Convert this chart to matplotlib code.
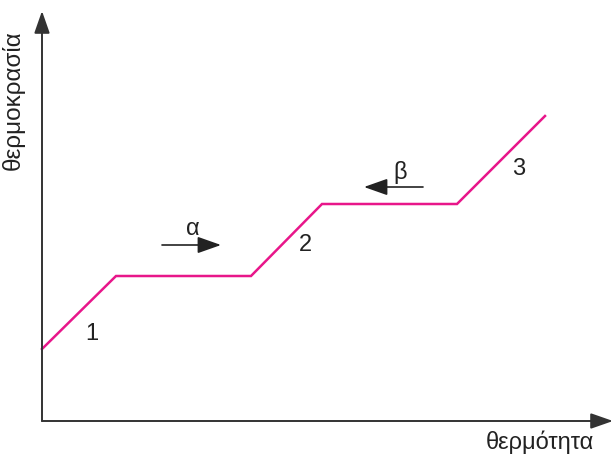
import matplotlib
matplotlib.use("Agg")
import matplotlib.pyplot as plt

# heat (x) and temperature (y) of the broken line, in chart units from the origin
heat = [0, 74, 209, 280, 415, 503]
temperature = [72, 145, 145, 217, 217, 305]

segment_labels = ["1", "2", "3"]
segment_label_pos = [(50, 87), (263, 176), (477, 252)]
process_labels = ["α", "β"]
process_label_pos = [(151, 192), (358, 249)]
process_arrows = [((120, 176), (179, 176)), ((381, 234), (322, 234))]

x_label = "θερμότητα"
y_label = "θερμοκρασία"

plt.rcParams['font.family'] = ['Liberation Sans', 'DejaVu Sans']

fig = plt.figure(figsize=(6.14, 4.55), dpi=100)
ax = fig.add_axes([0, 0, 1, 1])
ax.set_xlim(-42, 572)
ax.set_ylim(-34, 421)
ax.axis('off')

axis_col = '#333333'
text_col = '#222222'
# axes with arrows
for tip in [(571, 0), (0, 410)]:
    ax.annotate('', xy=tip, xytext=(0, 0),
                arrowprops=dict(arrowstyle='-|>,head_length=0.8,head_width=0.28',
                                color=axis_col, lw=1.4, mutation_scale=17,
                                shrinkA=0, shrinkB=0))

ax.plot(heat, temperature, color='#e8168a', lw=1.8, solid_joinstyle='miter')

for t, (x, y) in zip(segment_labels, segment_label_pos):
    ax.text(x, y, t, fontsize=17, ha='center', va='center', color=text_col)
for t, (x, y) in zip(process_labels, process_label_pos):
    ax.text(x, y, t, fontsize=17, ha='center', va='center', color=text_col)
for (s, e) in process_arrows:
    ax.annotate('', xy=e, xytext=s,
                arrowprops=dict(arrowstyle='-|>,head_length=0.85,head_width=0.3',
                                color=text_col, lw=1.2, mutation_scale=17,
                                shrinkA=0, shrinkB=0))

ax.text(498, -21, x_label, fontsize=17, ha='center', va='center', color=text_col)
ax.text(-29, 321, y_label, fontsize=17.5, ha='center', va='center',
        rotation=90, color=text_col)

fig.savefig('out.png', dpi=100)
